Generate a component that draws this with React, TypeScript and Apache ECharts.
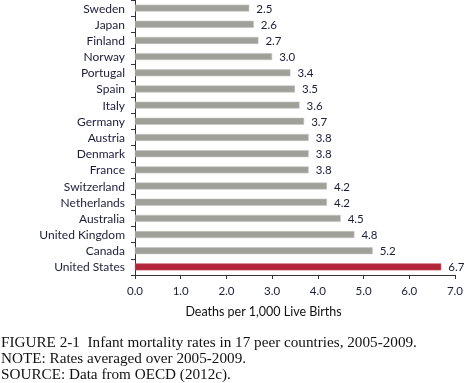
import React, { useEffect, useRef } from "react";
import * as echarts from "echarts";

const countries = [
  "Sweden", "Japan", "Finland", "Norway", "Portugal", "Spain", "Italy", "Germany",
  "Austria", "Denmark", "France", "Switzerland", "Netherlands", "Australia",
  "United Kingdom", "Canada", "United States",
];
const rates = [2.5, 2.6, 2.7, 3.0, 3.4, 3.5, 3.6, 3.7, 3.8, 3.8, 3.8, 4.2, 4.2, 4.5, 4.8, 5.2, 6.7];
const highlight = "United States";
const axisTitle = "Deaths per 1,000 Live Births";
const captionLines = [
  "FIGURE 2-1  Infant mortality rates in 17 peer countries, 2005-2009.",
  "NOTE: Rates averaged over 2005-2009.",
  "SOURCE: Data from OECD (2012c).",
];

export default function App() {
  const ref = useRef<HTMLDivElement>(null);
  useEffect(() => {
    if (!ref.current) return;
    const chart = echarts.init(ref.current, null, { renderer: "svg" });
    const textColor = "#1c1c3c";
    const font = "Lato, 'Open Sans', sans-serif";
    chart.setOption({
      animation: false,
      grid: { left: 135, right: 10, top: 0, bottom: 108 },
      xAxis: {
        type: "value",
        min: 0,
        max: 7,
        interval: 1,
        axisLine: { show: true, lineStyle: { color: "#333" } },
        axisTick: { show: true, length: 4, lineStyle: { color: "#333" } },
        splitLine: { show: false },
        axisLabel: {
          formatter: (v: number) => v.toFixed(1),
          color: textColor,
          fontFamily: font,
          fontSize: 11.5,
          margin: 9,
        },
      },
      yAxis: {
        type: "category",
        data: countries,
        inverse: true,
        axisLine: { show: true, lineStyle: { color: "#333" } },
        axisTick: { show: true, length: 4, lineStyle: { color: "#333" } },
        axisLabel: { color: textColor, fontFamily: font, fontSize: 12, margin: 10 },
      },
      series: [
        {
          type: "bar",
          barWidth: 7,
          data: rates.map((v, i) => ({
            value: v,
            itemStyle: {
              color: countries[i] === highlight ? "#b2253a" : "#a0a09b",
              borderColor: countries[i] === highlight ? "#c85060" : "#c4c4c0",
              borderWidth: 0.6,
            },
          })),
          label: {
            show: true,
            position: "right",
            distance: 7,
            color: textColor,
            fontFamily: font,
            fontSize: 11.5,
            formatter: (p: any) => p.value.toFixed(1),
          },
        },
      ],
      graphic: [
        {
          type: "text",
          x: 263.5,
          y: 311,
          style: {
            text: axisTitle,
            fill: "#111",
            font: `12.5px ${font}`,
            textAlign: "center",
            textVerticalAlign: "middle",
          },
        },
        ...captionLines.map((t, i) => ({
          type: "text",
          x: 1,
          y: 341 + i * 16,
          style: {
            text: t,
            fill: "#111",
            font: "15.2px 'Liberation Serif', 'DejaVu Serif', serif",
            textAlign: "left",
            textVerticalAlign: "middle",
          },
        })),
      ],
    });
    return () => chart.dispose();
  }, []);
  return <div ref={ref} style={{ position: "fixed", left: 0, top: 0, width: 466, height: 383 }} />;
}
